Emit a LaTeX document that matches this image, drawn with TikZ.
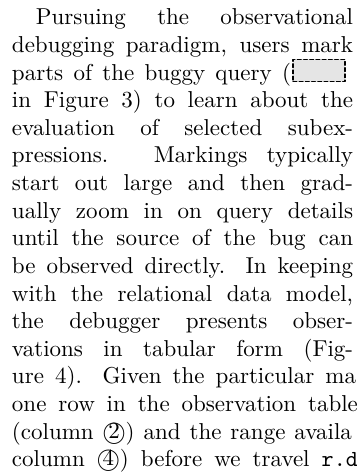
\documentclass[tikz,border=0pt]{standalone}
\usepackage{tikz}

\begin{document}
\begin{tikzpicture}[line join=round, line cap=round, x=0.4348pt, y=-0.4348pt]
	\definecolor{markgray}{gray}{0.9}
	\def\colw{148.3pt} % narrow lines beside the figure
	\def\widew{149.6pt} % full lines, cut at the right
	\def\lx{12} \def\ly{25} \def\dl{27.6}
	\tikzset{ln/.style={anchor=base west, inner sep=0pt, outer sep=0pt}}
	
	\useasboundingbox (0,0) rectangle (356,473);
	\clip (0,0) rectangle (356,473);
	
	%%%% paragraph, one node per line
	\node[ln] (l1) at (36,\ly) {\hbox to 137.8pt{Pursuing the observational}};
	\node[ln] (l2) at (\lx,\ly+\dl) {\hbox to \colw{debugging paradigm, users mark}};
	\node[ln] (l3) at (\lx,\ly+2*\dl) {\hbox to 121.3pt{parts of the buggy query (}};
	\node[ln] (l4) at (\lx,\ly+3*\dl) {\hbox to \colw{in Figure 3) to learn about the}};
	\node[ln] (l5) at (\lx,\ly+4*\dl) {\hbox to \colw{evaluation of selected subex-}};
	\node[ln] (l6) at (\lx,\ly+5*\dl) {\hbox to \colw{pressions. Markings typically}};
	\node[ln] (l7) at (\lx,\ly+6*\dl) {\hbox to \colw{start out large and then grad-}};
	\node[ln] (l8) at (\lx,\ly+7*\dl) {\hbox to \colw{ually zoom in on query details}};
	\node[ln] (l9) at (\lx,\ly+8*\dl) {\hbox to \colw{until the source of the bug can}};
	\node[ln] (l10) at (\lx,\ly+9*\dl) {\hbox to \colw{be observed directly. In keeping}};
	\node[ln] (l11) at (\lx,\ly+10*\dl) {\hbox to \colw{with the relational data model,}};
	\node[ln] (l12) at (\lx,\ly+11*\dl) {\hbox to \colw{the debugger presents obser-}};
	\node[ln] (l13) at (\lx,\ly+12*\dl) {\hbox to \colw{vations in tabular form (Fig-}};
	\node[ln] (l14) at (\lx,\ly+13*\dl) {\hbox to \widew{ure 4). Given the particular ma}};
	\node[ln] (l15) at (\lx,\ly+14*\dl) {\hbox to 150.4pt{one row in the observation table}};
	\node[ln] (l16) at (\lx,\ly+15*\dl) {\hbox to 147.8pt{(column \textcircled{2}) and the range availa}};
	\node[ln] (l17) at (\lx,\ly+16*\dl) {\hbox to 150.4pt{column \textcircled{4}) before we travel \texttt{r.d}}};
	
	%%%% the marking, dashed
	\node[fill=markgray, draw, line width=0.6pt, dash pattern=on 1.6pt off 1.1pt,
		minimum width=22.6pt, minimum height=9.6pt, inner sep=0pt, anchor=west]
		(mark) at ([xshift=0.6pt]l3.base east |- 0,70.5) {};
\end{tikzpicture}
\end{document}
